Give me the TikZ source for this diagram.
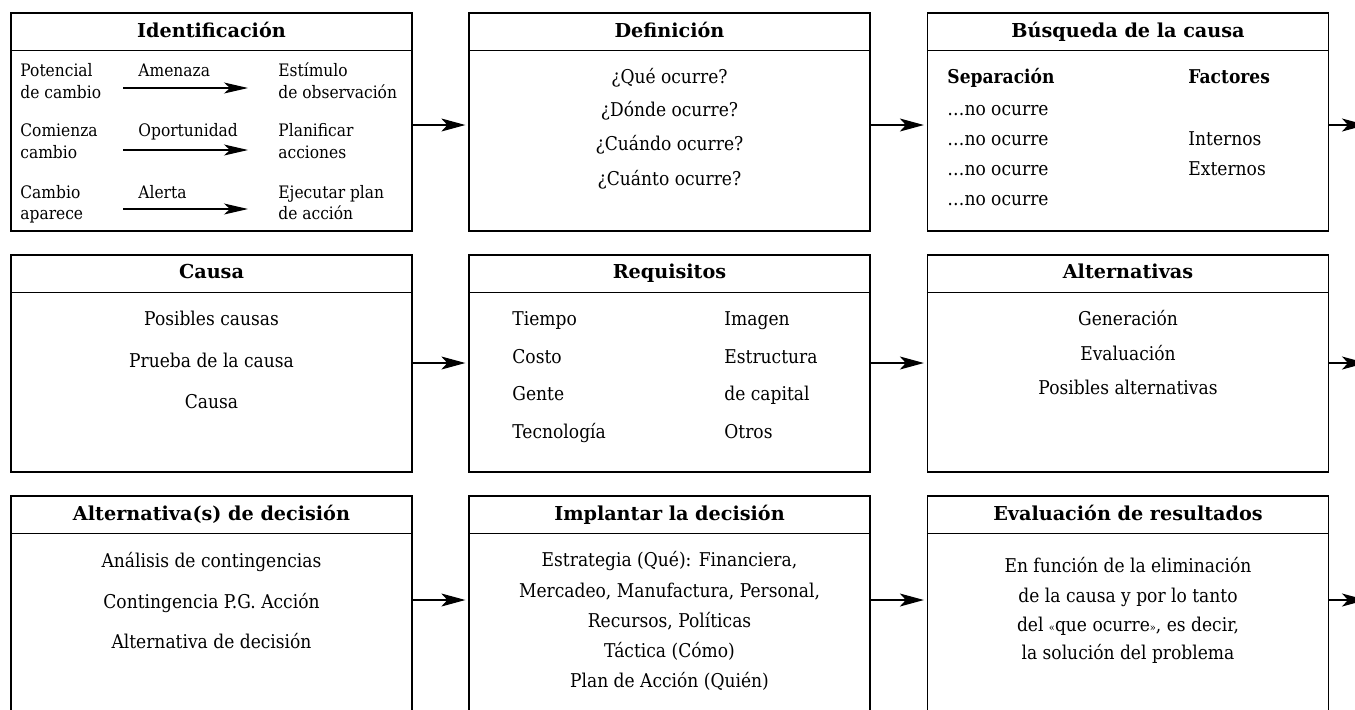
\documentclass[tikz,border=0pt]{standalone}
\usepackage{fontspec}
\setmainfont{DejaVu Serif}[FakeStretch=0.9]
\newfontfamily\ttlfont{DejaVu Serif}[FakeStretch=1.0]
\usetikzlibrary{arrows.meta}
\tikzset{
  box/.style={draw, line width=0.65pt, minimum width=200.5pt, minimum height=109pt, inner sep=0pt},
  ttl/.style={font=\ttlfont\bfseries\fontsize{9.6pt}{10pt}\selectfont, text height=7pt, text depth=2pt, inner sep=0pt},
  txt/.style={font=\fontsize{9.5pt}{10pt}\selectfont, text height=7pt, text depth=2pt, inner sep=0pt},
  txtl/.style={txt, anchor=west},
  itxt/.style={txtl, font=\fontsize{8.6pt}{10pt}\selectfont},
  btxt/.style={txtl, font=\bfseries\fontsize{9.5pt}{10pt}\selectfont},
  arr/.style={line width=0.55pt, -{Stealth[length=12pt, width=6.5pt, inset=3pt]}},
  sarr/.style={line width=0.55pt, -{Stealth[length=12pt, width=5.5pt, inset=3pt]}},
}
\begin{document}
\begin{tikzpicture}[x=0.5pt, y=-0.5pt]
\useasboundingbox (0,0) rectangle (1355,709);
\clip (0,0) rectangle (1355,709);
% boxes
\node[box] (b1) at (211.5,122) {};
\node[box] (b2) at (669.5,122) {};
\node[box] (b3) at (1128,122) {};
\node[box, minimum height=108.5pt] (b4) at (211.5,363.5) {};
\node[box, minimum height=108.5pt] (b5) at (669.5,363.5) {};
\node[box, minimum height=108.5pt] (b6) at (1128,363.5) {};
\node[box] (b7) at (211.5,605) {};
\node[box] (b8) at (669.5,605) {};
\node[box] (b9) at (1128,605) {};
% title separators
\foreach \b in {b1,b2,b3,b4,b5,b6,b7,b8,b9}{
  \draw[line width=0.65pt] ([yshift=-19pt]\b.north west) -- ([yshift=-19pt]\b.north east);
}
% titles
\node[ttl] (t1) at (211.5,32) {Identificación};
\node[ttl] (t2) at (669.5,32) {Definición};
\node[ttl] (t3) at (1128,32) {Búsqueda de la causa};
\node[ttl] (t4) at (211.5,273) {Causa};
\node[ttl] (t5) at (669.5,273) {Requisitos};
\node[ttl] (t6) at (1128,273) {Alternativas};
\node[ttl] (t7) at (211.5,515) {Alternativa(s) de decisión};
\node[ttl] (t8) at (669.5,515) {Implantar la decisión};
\node[ttl] (t9) at (1128,515) {Evaluación de resultados};
% Identificacion
\node[itxt] (i11) at (20,71) {Potencial};
\node[itxt] (i12) at (20,93) {de cambio};
\node[itxt] (i21) at (20,131) {Comienza};
\node[itxt] (i22) at (20,153) {cambio};
\node[itxt] (i31) at (20,193) {Cambio};
\node[itxt] (i32) at (20,214) {aparece};
\node[itxt] (m1) at (138,71) {Amenaza};
\node[itxt] (m2) at (138,131) {Oportunidad};
\node[itxt] (m3) at (138,193) {Alerta};
\node[itxt] (r11) at (278,71) {Estímulo};
\node[itxt] (r12) at (278,93) {de observación};
\node[itxt] (r21) at (278,131) {Planificar};
\node[itxt] (r22) at (278,153) {acciones};
\node[itxt] (r31) at (278,193) {Ejecutar plan};
\node[itxt] (r32) at (278,214) {de acción};
\coordinate (a1s) at (123,88); \coordinate (a1e) at (248,88);
\coordinate (a2s) at (123,150); \coordinate (a2e) at (248,150);
\coordinate (a3s) at (123,209); \coordinate (a3e) at (248,209);
\draw[sarr] (a1s) -- (a1e);
\draw[sarr] (a2s) -- (a2e);
\draw[sarr] (a3s) -- (a3e);
% Definicion
\node[txt] (d1) at (669.5,78) {¿Qué ocurre?};
\node[txt] (d2) at (669.5,111) {¿Dónde ocurre?};
\node[txt] (d3) at (669.5,145) {¿Cuándo ocurre?};
\node[txt] (d4) at (669.5,180) {¿Cuánto ocurre?};
% Busqueda
\node[btxt] (s0) at (947,78) {Separación};
\node[btxt] (f0) at (1188,78) {Factores};
\node[txtl] (s1) at (947,110) {…no ocurre};
\node[txtl] (s2) at (947,140) {…no ocurre};
\node[txtl] (s3) at (947,170) {…no ocurre};
\node[txtl] (s4) at (947,200) {…no ocurre};
\node[txtl] (f1) at (1188,140) {Internos};
\node[txtl] (f2) at (1188,170) {Externos};
% Causa
\node[txt] (c1) at (211.5,320) {Posibles causas};
\node[txt] (c2) at (211.5,362) {Prueba de la causa};
\node[txt] (c3) at (211.5,403) {Causa};
% Requisitos
\node[txtl] (q1) at (512,320) {Tiempo};
\node[txtl] (q2) at (512,358) {Costo};
\node[txtl] (q3) at (512,395) {Gente};
\node[txtl] (q4) at (512,433) {Tecnología};
\node[txtl] (q5) at (724,320) {Imagen};
\node[txtl] (q6) at (724,358) {Estructura};
\node[txtl] (q7) at (724,395) {de capital};
\node[txtl] (q8) at (724,433) {Otros};
% Alternativas
\node[txt] (l1) at (1128,320) {Generación};
\node[txt] (l2) at (1128,355) {Evaluación};
\node[txt] (l3) at (1128,389) {Posibles alternativas};
% Alternativa(s) de decision
\node[txt] (x1) at (211.5,562) {Análisis de contingencias};
\node[txt] (x2) at (211.5,603) {Contingencia P.G. Acción};
\node[txt] (x3) at (211.5,643) {Alternativa de decisión};
% Implantar
\node[txt] (p1) at (669.5,561) {Estrategia (Qué): Financiera,};
\node[txt] (p2) at (669.5,592) {Mercadeo, Manufactura, Personal,};
\node[txt] (p3) at (669.5,622) {Recursos, Políticas};
\node[txt] (p4) at (669.5,652) {Táctica (Cómo)};
\node[txt] (p5) at (669.5,682) {Plan de Acción (Quién)};
% Evaluacion
\node[txt] (e1) at (1128,567) {En función de la eliminación};
\node[txt] (e2) at (1128,597) {de la causa y por lo tanto};
\node[txt] (e3) at (1128,626) {del {\fontsize{5.5pt}{6pt}\selectfont«}que ocurre{\fontsize{5.5pt}{6pt}\selectfont»}, es decir,};
\node[txt] (e4) at (1128,654) {la solución del problema};
% connectors
\coordinate (o1) at (1366,125);
\coordinate (o2) at (1366,363);
\coordinate (o3) at (1366,600);
\draw[arr, shorten >=1.5pt] (b1.east |- o1) -- (b2.west |- o1);
\draw[arr, shorten >=1.5pt] (b2.east |- o1) -- (b3.west |- o1);
\draw[arr] (b3.east |- o1) -- (o1);
\draw[arr, shorten >=1.5pt] (b4.east |- o2) -- (b5.west |- o2);
\draw[arr, shorten >=1.5pt] (b5.east |- o2) -- (b6.west |- o2);
\draw[arr] (b6.east |- o2) -- (o2);
\draw[arr, shorten >=1.5pt] (b7.east |- o3) -- (b8.west |- o3);
\draw[arr, shorten >=1.5pt] (b8.east |- o3) -- (b9.west |- o3);
\draw[arr] (b9.east |- o3) -- (o3);
\end{tikzpicture}
\end{document}
